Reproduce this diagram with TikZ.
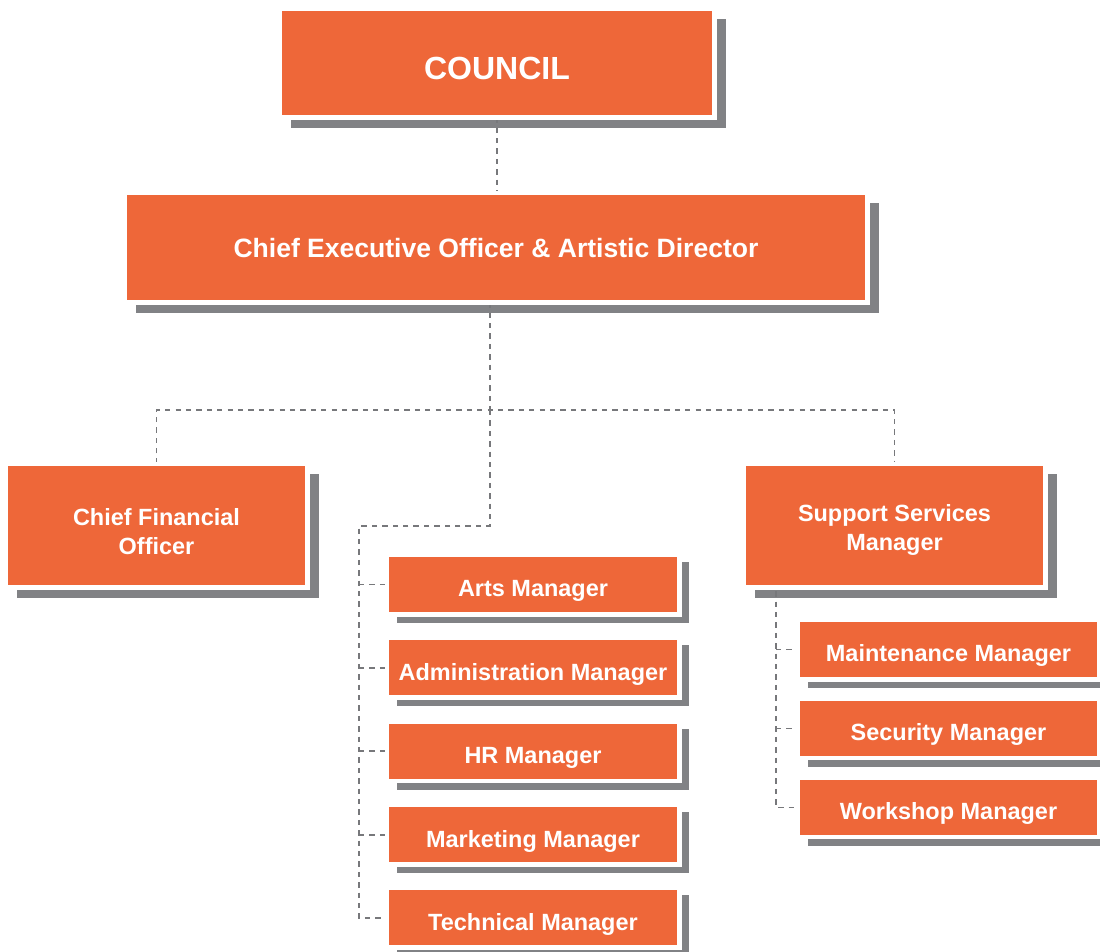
\documentclass[tikz,border=0pt]{standalone}
\usepackage{fontspec}
\setmainfont{Liberation Sans}
\usepackage{xcolor}
\usetikzlibrary{positioning, calc}
\definecolor{boxorange}{HTML}{EE6739}
\definecolor{shadowgray}{HTML}{818285}
\definecolor{linkgray}{HTML}{77787B}
\pgfdeclarelayer{shadow}
\pgfdeclarelayer{links}
\pgfsetlayers{shadow,links,main}
\tikzset{
  box/.style={rectangle, fill=boxorange, draw=white, line width=3.375pt, inner sep=0pt, outer sep=0pt, align=center, text=white, font=\bfseries},
  topbox/.style={box, minimum width=325.875pt, minimum height=81.375pt, font=\bfseries\fontsize{24pt}{28pt}\selectfont, text height=24.7pt, text depth=0pt},
  ceobox/.style={box, minimum width=556.875pt, minimum height=82.125pt, font=\bfseries\fontsize{19.9pt}{24pt}\selectfont, text height=15pt, text depth=0pt},
  headbox/.style={box, minimum width=226.125pt, minimum height=92.625pt, font=\bfseries\fontsize{17.6pt}{21.75pt}\selectfont},
  mgrbox/.style={box, minimum width=219.375pt, minimum height=44.625pt, font=\bfseries\fontsize{17.6pt}{21pt}\selectfont, text height=18.6pt, text depth=0pt},
  widembox/.style={mgrbox, minimum width=226.125pt},
  link/.style={draw=linkgray, line width=1.4pt, dash pattern=on 4pt off 3.8pt},
}

\begin{document}
\begin{tikzpicture}[x=0.75pt, y=-0.75pt]
    \useasboundingbox (0,0) rectangle (1100,951);
    % top levels
    \node[topbox] (council) at (497,63) {COUNCIL};
    \node[ceobox] (ceo) at (496,247.5) {Chief Executive Officer \& Artistic Director};
    \node[headbox] (cfo) at (156.5,525.5) {\rule{0pt}{22.5pt}Chief Financial\\Officer};
    \node[headbox] (ssm) at (894.5,525.5) {\rule{0pt}{20pt}Support Services\\Manager};
    % managers under the CEO
    \node[mgrbox] (arts) at (533,584.5) {Arts Manager};
    \node[mgrbox, below=17.9pt of arts] (admin) {Administration Manager};
    \node[mgrbox, below=17.9pt of admin] (hr) {HR Manager};
    \node[mgrbox, below=17.9pt of hr] (mkt) {Marketing Manager};
    \node[mgrbox, below=17.9pt of mkt] (tech) {Technical Manager};
    % managers under support services
    \node[widembox] (maint) at (948.5,649.5) {Maintenance Manager};
    \node[widembox, below=14.6pt of maint] (sec) {Security Manager};
    \node[widembox, below=14.6pt of sec] (work) {Workshop Manager};

    \begin{pgfonlayer}{shadow}
      \foreach \n in {council,ceo,cfo,ssm}
        \fill[shadowgray] ($(\n.north west)+(11.25,10.25)$) rectangle ($(\n.south east)+(11.75,10.75)$);
      \foreach \n in {arts,admin,hr,mkt,tech,maint,sec,work}
        \fill[shadowgray] ($(\n.north west)+(10.25,7.25)$) rectangle ($(\n.south east)+(9.75,8.75)$);
    \end{pgfonlayer}

    \begin{pgfonlayer}{links}
      \coordinate (split) at (490,410);
      \coordinate (lbus) at (359,526);
      \coordinate (rbus) at (776,560);
      \draw[link] (council) -- (council |- ceo.north);
      \draw[link] (split |- ceo.south) -- (split);
      \draw[link] (cfo.north) |- (ssm.north |- split) -- (ssm.north);
      \draw[link] (split) |- (lbus) |- (tech);
      \foreach \n in {arts,admin,hr,mkt}
        \draw[link] (lbus |- \n) -- (\n);
      \draw[link] (rbus) |- (work);
      \foreach \n in {maint,sec}
        \draw[link] (rbus |- \n) -- (\n);
    \end{pgfonlayer}
\end{tikzpicture}
\end{document}
